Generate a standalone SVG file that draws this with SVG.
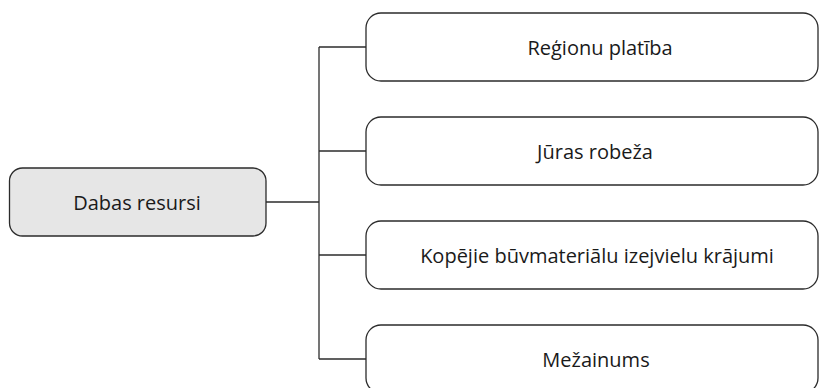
<svg xmlns="http://www.w3.org/2000/svg" width="820" height="388" viewBox="0 0 820 388">
<style>
.box{fill:#ffffff;stroke:#2b2b2b;stroke-width:1.3}
.root{fill:#e6e6e6;stroke:#2b2b2b;stroke-width:1.3}
.lbl{font-family:"Open Sans","Noto Sans",sans-serif;font-size:20px;fill:#1a1a1a;text-anchor:middle;dominant-baseline:central}
.conn{fill:none;stroke:#2b2b2b;stroke-width:1.3}
</style>
<rect width="820" height="388" fill="#ffffff"/>
<g id="connectors">
<path class="conn" d="M266 202 H319"/>
<path class="conn" d="M319 47 V359"/>
<path class="conn" d="M319 47 H366"/>
<path class="conn" d="M319 151 H366"/>
<path class="conn" d="M319 255 H366"/>
<path class="conn" d="M319 359 H366"/>
</g>
<g id="root">
<rect class="root" x="9.5" y="168" width="256.5" height="68" rx="13"/>
<text class="lbl" x="137" y="202">Dabas resursi</text>
</g>
<g id="n1">
<rect class="box" x="366" y="13" width="452" height="68" rx="15"/>
<text class="lbl" x="600" y="47">Reģionu platība</text>
</g>
<g id="n2">
<rect class="box" x="366" y="117" width="452" height="68" rx="15"/>
<text class="lbl" x="595" y="151">Jūras robeža</text>
</g>
<g id="n3">
<rect class="box" x="366" y="221" width="452" height="68" rx="15"/>
<text class="lbl" x="597" y="255">Kopējie būvmateriālu izejvielu krājumi</text>
</g>
<g id="n4">
<rect class="box" x="366" y="325" width="452" height="68" rx="15"/>
<text class="lbl" x="596" y="359">Mežainums</text>
</g>
</svg>
